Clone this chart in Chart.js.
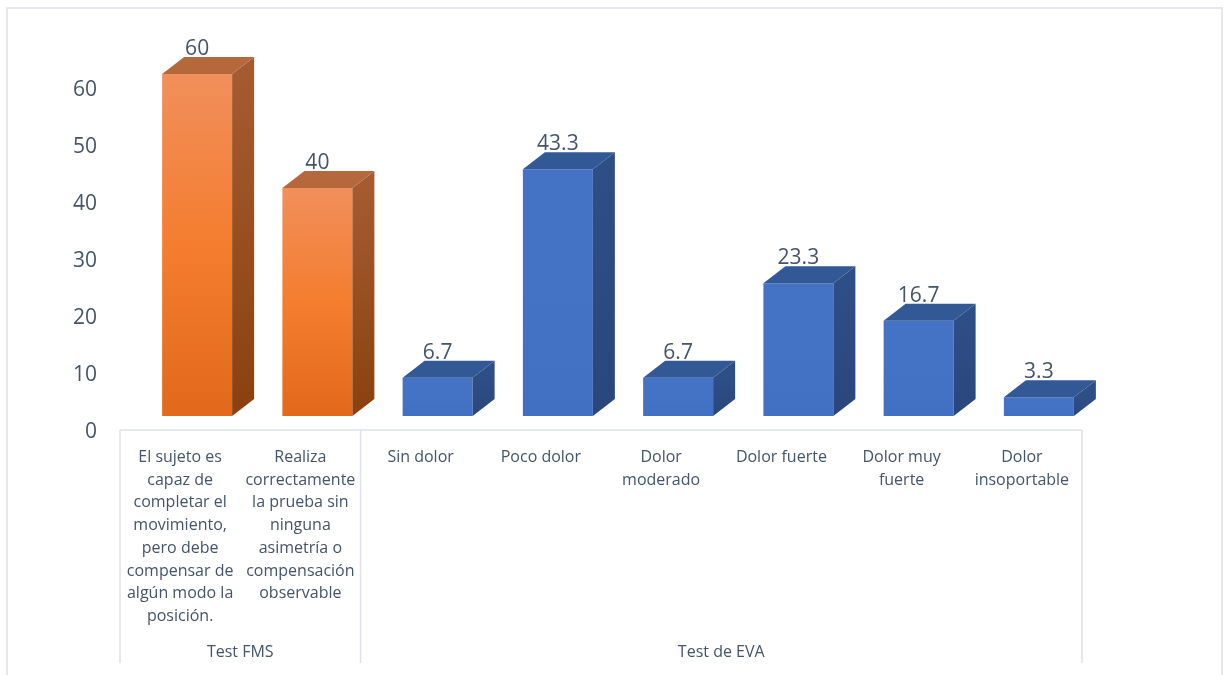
<!DOCTYPE html>
<html lang="es">
<head>
<meta charset="utf-8">
<title>Test FMS y Test de EVA</title>
<script src="https://cdn.jsdelivr.net/npm/chart.js@4.4.0/dist/chart.umd.min.js"></script>
<style>
  body { margin: 0; background: #fff; }
  #contenedor { position: relative; width: 1228px; height: 675px; }
</style>
</head>
<body>
<div id="contenedor"><canvas id="grafico"></canvas></div>
<script>
// -----------------------------------------------
// DATOS
// -----------------------------------------------
const categorias = [
    ["El sujeto es", "capaz de", "completar el", "movimiento,", "pero debe", "compensar de", "algún modo la", "posición."],
    ["Realiza", "correctamente", "la prueba sin", "ninguna", "asimetría o", "compensación", "observable"],
    ["Sin dolor"],
    ["Poco dolor"],
    ["Dolor", "moderado"],
    ["Dolor fuerte"],
    ["Dolor muy", "fuerte"],
    ["Dolor", "insoportable"]
];
const valores = [60, 40, 6.7, 43.3, 6.7, 23.3, 16.7, 3.3];
const grupos = ["Test FMS", "Test de EVA"];
const tamanoGrupos = [2, 6];
const ejeYMin = 0, ejeYMax = 60, ejeYPaso = 10;

// -----------------------------------------------
// ESTILO
// -----------------------------------------------
const colorTexto = "#44546A";
const colorLinea = "#DDE2E8";
const fuente = "'Open Sans', 'Noto Sans', sans-serif";

// desplazamiento de la cara frontal y profundidad del efecto 3D
const DX = 17, DY = -16;
const PROF_X = 22, PROF_Y = 17;

function esFMS(i) { return i < tamanoGrupos[0]; }

const paletas = {
    naranja: {
        frente: ["#F18F5B", "#F47D2F", "#E2691C"],
        lado: ["#A55B2F", "#8A410F"],
        arriba: "#B6683D"
    },
    azul: {
        frente: ["#4472C4", "#4472C4", "#4170C2"],
        lado: ["#2E4E86", "#2A477C"],
        arriba: "#325896"
    }
};

function paleta(i) { return esFMS(i) ? paletas.naranja : paletas.azul; }

// -----------------------------------------------
// PLUGIN: barras 3D, etiquetas y tabla del eje X
// -----------------------------------------------
const barras3D = {
    id: "barras3D",
    beforeDraw(chart) {
        const ctx = chart.ctx;
        ctx.save();
        ctx.strokeStyle = colorLinea;
        ctx.lineWidth = 1.5;
        ctx.strokeRect(7, 8, 1215, 700);
        ctx.restore();
    },
    beforeDatasetsDraw(chart) {
        chart.ctx.save();
        chart.ctx.translate(DX, DY);
    },
    afterDatasetsDraw(chart) {
        const ctx = chart.ctx;
        const meta = chart.getDatasetMeta(0);
        meta.data.forEach((bar, i) => {
            const { x, y, base, width } = bar.getProps(["x", "y", "base", "width"], true);
            const x1 = x - width / 2, x2 = x + width / 2;
            const p = paleta(i);

            // cara lateral
            const gl = ctx.createLinearGradient(0, y, 0, base);
            gl.addColorStop(0, p.lado[0]);
            gl.addColorStop(1, p.lado[1]);
            ctx.fillStyle = gl;
            ctx.beginPath();
            ctx.moveTo(x2, y);
            ctx.lineTo(x2 + PROF_X, y - PROF_Y);
            ctx.lineTo(x2 + PROF_X, base - PROF_Y);
            ctx.lineTo(x2, base);
            ctx.closePath();
            ctx.fill();

            // cara superior
            ctx.fillStyle = p.arriba;
            ctx.beginPath();
            ctx.moveTo(x1, y);
            ctx.lineTo(x1 + PROF_X, y - PROF_Y);
            ctx.lineTo(x2 + PROF_X, y - PROF_Y);
            ctx.lineTo(x2, y);
            ctx.closePath();
            ctx.fill();

            // etiqueta de datos
            ctx.fillStyle = colorTexto;
            ctx.font = "21px " + fuente;
            ctx.textAlign = "center";
            ctx.textBaseline = "middle";
            ctx.fillText(String(valores[i]), x, y - 25);
        });
        ctx.restore();
    },
    afterDraw(chart) {
        const ctx = chart.ctx;
        const xs = chart.scales.x;
        const paso = (xs.right - xs.left) / categorias.length;
        const yTop = chart.chartArea.bottom - 2;
        const yFin = 663;

        ctx.save();
        ctx.strokeStyle = colorLinea;
        ctx.lineWidth = 1.5;
        ctx.beginPath();
        ctx.moveTo(xs.left, yTop);
        ctx.lineTo(xs.right, yTop);
        ctx.stroke();

        // separadores de grupo y nombres
        let inicio = 0;
        ctx.fillStyle = colorTexto;
        ctx.font = "16px " + fuente;
        ctx.textAlign = "center";
        ctx.textBaseline = "middle";
        const bordes = [xs.left];
        grupos.forEach((g, k) => {
            const a = xs.getPixelForValue(inicio) - paso / 2;
            const b = xs.getPixelForValue(inicio + tamanoGrupos[k] - 1) + paso / 2;
            bordes.push(b);
            ctx.fillText(g, (a + b) / 2, 652);
            inicio += tamanoGrupos[k];
        });
        bordes.forEach(bx => {
            ctx.beginPath();
            ctx.moveTo(bx, yTop);
            ctx.lineTo(bx, yFin);
            ctx.stroke();
        });
        ctx.restore();
    }
};

// -----------------------------------------------
// GRÁFICO
// -----------------------------------------------
const ctx = document.getElementById("grafico");

new Chart(ctx, {
    type: "bar",
    data: {
        labels: categorias,
        datasets: [{
            data: valores,
            clip: false,
            borderWidth: 0,
            categoryPercentage: 1,
            barPercentage: 0.582,
            backgroundColor(context) {
                const chart = context.chart;
                const ys = chart.scales.y;
                const f = paleta(context.dataIndex).frente;
                if (!ys || context.dataIndex === undefined) return f[1];
                const top = ys.getPixelForValue(valores[context.dataIndex]);
                const bottom = ys.getPixelForValue(0);
                if (!isFinite(top) || !isFinite(bottom)) return f[1];
                const g = chart.ctx.createLinearGradient(0, top, 0, bottom);
                g.addColorStop(0, f[0]);
                g.addColorStop(0.5, f[1]);
                g.addColorStop(1, f[2]);
                return g;
            }
        }]
    },
    options: {
        responsive: true,
        maintainAspectRatio: false,
        animation: false,
        layout: { padding: { top: 90, right: 146, bottom: 0, left: 0 } },
        plugins: {
            legend: { display: false },
            tooltip: { enabled: false }
        },
        scales: {
            x: {
                grid: { display: false, drawTicks: false },
                border: { display: false },
                ticks: {
                    autoSkip: false,
                    maxRotation: 0,
                    padding: 14,
                    color: colorTexto,
                    font: { family: fuente, size: 16, lineHeight: 1.42 }
                },
                afterFit(scale) { scale.height = 243; }
            },
            y: {
                min: ejeYMin,
                max: ejeYMax,
                grid: { display: false, drawTicks: false },
                border: { display: false },
                ticks: {
                    stepSize: ejeYPaso,
                    padding: 23,
                    color: colorTexto,
                    font: { family: fuente, size: 21 }
                },
                afterFit(scale) { scale.width = 120; }
            }
        }
    },
    plugins: [barras3D]
});
</script>
</body>
</html>
